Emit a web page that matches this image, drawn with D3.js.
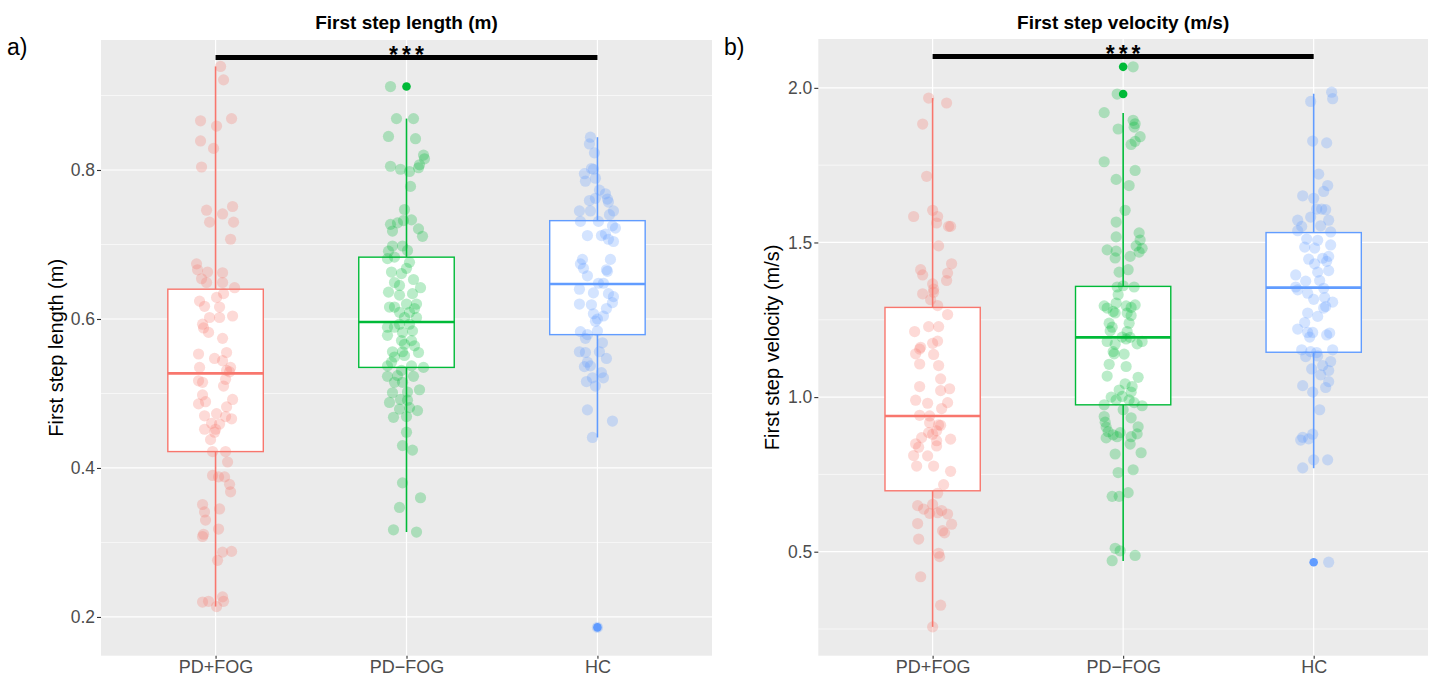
<!DOCTYPE html>
<html>
<head>
<meta charset="utf-8">
<script src="https://cdn.jsdelivr.net/npm/d3@7"></script>
<style>
  html, body { margin: 0; padding: 0; background: #fff; }
  svg { display: block; }
  text { font-family: "Liberation Sans", Arial, Helvetica, sans-serif; }
</style>
</head>
<body>
<svg id="chart" width="1435" height="682"></svg>
<script>
// ---------------- DATA ----------------
const categories = ["PD+FOG", "PD\u2212FOG", "HC"];
const groupColors = ["#F8766D", "#00BA38", "#619CFF"];

// Each point: [value, jitter offset (px at a 190.8px category step)]
const lengthPDFOG = [[0.939,5],[0.921,8],[0.866,-15],[0.869,16],[0.859,1],[0.839,-15],[0.829,-2],[0.804,-14],[0.746,-9],[0.741,7],[0.751,17],[0.730,-6],[0.730,18],[0.707,15],[0.674,-19],[0.666,-18],[0.663,-8],[0.662,7],[0.654,-14],[0.649,-9],[0.649,7],[0.642,19],[0.634,8],[0.629,1],[0.624,-16],[0.617,-11],[0.616,4],[0.602,-6],[0.602,4],[0.604,17],[0.593,-13],[0.588,-12],[0.582,-7],[0.574,7],[0.553,-17],[0.555,11],[0.547,-1],[0.544,7],[0.535,-16],[0.535,15],[0.531,11],[0.529,14],[0.519,10],[0.517,-17],[0.515,-13],[0.510,8],[0.498,-13],[0.486,-17],[0.489,-10],[0.492,17],[0.482,11],[0.473,1],[0.470,-11],[0.469,10],[0.466,16],[0.460,-4],[0.459,4],[0.452,-11],[0.452,0],[0.448,-1],[0.438,-5],[0.422,-3],[0.422,10],[0.408,12],[0.390,-3],[0.388,3],[0.388,9],[0.378,14],[0.368,15],[0.351,-13],[0.345,4],[0.341,-11],[0.330,-10],[0.318,3],[0.311,-12],[0.308,-13],[0.288,16],[0.287,7],[0.276,2],[0.220,-13],[0.221,-7],[0.227,7],[0.221,8],[0.214,1]];
const lengthPDnoFOG = [[0.912,-16],[0.869,-10],[0.869,7],[0.845,-18],[0.842,9],[0.820,17],[0.815,18],[0.807,13],[0.805,-16],[0.801,-6],[0.798,3],[0.803,12],[0.778,4],[0.747,-2],[0.727,-16],[0.718,-14],[0.729,-9],[0.732,-3],[0.733,5],[0.721,12],[0.711,16],[0.698,-14],[0.698,-4],[0.692,1],[0.691,-18],[0.683,-12],[0.681,-19],[0.676,3],[0.668,0],[0.663,-15],[0.661,-5],[0.653,7],[0.649,-12],[0.645,-7],[0.642,14],[0.636,-18],[0.632,-7],[0.634,6],[0.620,0],[0.620,10],[0.616,-17],[0.616,-12],[0.609,-7],[0.614,8],[0.609,3],[0.602,-2],[0.602,10],[0.589,-19],[0.589,-12],[0.593,-7],[0.593,3],[0.578,-19],[0.582,-4],[0.584,6],[0.571,-5],[0.571,5],[0.566,-2],[0.564,8],[0.556,-14],[0.556,-4],[0.555,12],[0.551,-2],[0.549,-12],[0.542,-15],[0.537,5],[0.535,17],[0.537,-19],[0.531,-5],[0.523,-19],[0.524,-9],[0.523,7],[0.515,-12],[0.515,-4],[0.501,-14],[0.502,1],[0.505,13],[0.492,-6],[0.491,1],[0.488,-17],[0.479,-7],[0.481,3],[0.477,11],[0.468,-13],[0.469,0],[0.448,0],[0.430,-4],[0.424,6],[0.380,-4],[0.360,14],[0.347,-7],[0.317,-13],[0.314,10]];
const lengthHC = [[0.844,-7],[0.835,-8],[0.823,-3],[0.802,-6],[0.801,-4],[0.795,-13],[0.789,-2],[0.785,-12],[0.773,2],[0.768,8],[0.759,-8],[0.762,-2],[0.761,10],[0.757,11],[0.745,-18],[0.745,-7],[0.745,16],[0.740,12],[0.731,-17],[0.731,1],[0.725,15],[0.722,18],[0.712,-10],[0.712,4],[0.714,8],[0.707,11],[0.704,16],[0.680,-15],[0.674,-17],[0.680,13],[0.668,-14],[0.666,9],[0.664,10],[0.658,-10],[0.648,1],[0.648,6],[0.640,-18],[0.635,-4],[0.634,11],[0.630,16],[0.620,-18],[0.619,-6],[0.622,15],[0.614,9],[0.607,-4],[0.600,0],[0.604,6],[0.597,-2],[0.583,-17],[0.579,-10],[0.574,-12],[0.584,0],[0.568,5],[0.556,-18],[0.555,-12],[0.556,2],[0.547,9],[0.542,-10],[0.536,-13],[0.537,-7],[0.528,4],[0.521,-5],[0.521,6],[0.516,-11],[0.510,-2],[0.478,-10],[0.463,15],[0.441,-5],[0.186,0]];

const velocityPDFOG = [[1.967,-4],[1.951,14],[1.883,-10],[1.714,-6],[1.584,-19],[1.604,0],[1.584,5],[1.563,4],[1.552,16],[1.552,18],[1.489,6],[1.431,19],[1.412,-12],[1.395,-10],[1.401,15],[1.377,14],[1.366,0],[1.349,1],[1.339,1],[1.334,-10],[1.315,-2],[1.296,5],[1.267,15],[1.228,-4],[1.228,6],[1.212,-18],[1.174,0],[1.181,5],[1.161,-12],[1.155,-13],[1.140,-17],[1.138,1],[1.107,-13],[1.102,6],[1.059,8],[1.034,-13],[1.021,8],[1.027,17],[0.990,-17],[0.980,-5],[0.982,15],[0.963,9],[0.941,-13],[0.939,-3],[0.917,-3],[0.909,8],[0.910,6],[0.885,-4],[0.880,0],[0.891,4],[0.869,-11],[0.864,18],[0.859,4],[0.849,-17],[0.838,-14],[0.842,4],[0.811,-19],[0.810,-5],[0.777,-16],[0.777,1],[0.760,18],[0.717,11],[0.689,5],[0.649,-15],[0.638,-9],[0.653,0],[0.624,-3],[0.626,5],[0.633,9],[0.622,15],[0.589,19],[0.591,-15],[0.568,10],[0.561,12],[0.541,-14],[0.495,6],[0.484,7],[0.419,-12],[0.327,8],[0.257,0]];
const velocityPDnoFOG = [[2.068,10],[1.980,-6],[1.920,-19],[1.895,10],[1.884,12],[1.873,11],[1.867,-5],[1.842,17],[1.827,12],[1.817,8],[1.761,-19],[1.733,12],[1.704,-7],[1.684,6],[1.604,2],[1.566,-7],[1.531,16],[1.518,-7],[1.508,17],[1.489,13],[1.481,19],[1.476,-16],[1.469,16],[1.472,-7],[1.450,-8],[1.455,7],[1.404,-4],[1.412,5],[1.356,-6],[1.356,11],[1.360,0],[1.331,-5],[1.304,-7],[1.295,-19],[1.288,-16],[1.295,3],[1.290,8],[1.298,12],[1.277,-10],[1.272,-8],[1.272,4],[1.264,8],[1.239,-14],[1.239,6],[1.226,-11],[1.214,-13],[1.212,4],[1.194,-1],[1.188,3],[1.193,7],[1.180,-16],[1.171,-8],[1.172,14],[1.180,19],[1.147,-10],[1.139,1],[1.140,-9],[1.106,-14],[1.099,3],[1.068,-16],[1.064,15],[1.043,2],[1.034,9],[1.023,-4],[1.016,8],[1.002,-1],[1.000,-12],[0.991,-7],[0.991,6],[0.982,11],[0.975,-19],[0.972,19],[0.959,0],[0.937,-19],[0.933,8],[0.919,-18],[0.903,-17],[0.904,15],[0.888,-15],[0.885,-3],[0.878,-10],[0.881,14],[0.872,8],[0.868,-17],[0.872,-6],[0.848,7],[0.816,-8],[0.820,18],[0.765,10],[0.756,-5],[0.679,-11],[0.679,-4],[0.691,5],[0.511,-8],[0.503,-3],[0.488,12],[0.471,-11]];
const velocityHC = [[1.986,18],[1.965,19],[1.956,-3],[1.828,-1],[1.822,13],[1.721,5],[1.684,14],[1.665,10],[1.651,-11],[1.643,0],[1.608,3],[1.608,8],[1.606,12],[1.582,-3],[1.572,-16],[1.554,7],[1.572,15],[1.552,-12],[1.538,-16],[1.534,17],[1.511,-7],[1.507,4],[1.485,-9],[1.482,1],[1.492,17],[1.446,-5],[1.449,9],[1.431,1],[1.455,15],[1.439,13],[1.404,4],[1.409,15],[1.395,-18],[1.375,-8],[1.377,6],[1.356,-18],[1.347,-16],[1.352,10],[1.336,-6],[1.316,0],[1.322,11],[1.307,19],[1.293,12],[1.288,10],[1.272,-6],[1.261,4],[1.241,-9],[1.220,-16],[1.209,-6],[1.209,-1],[1.194,-4],[1.201,13],[1.207,16],[1.153,-12],[1.147,-3],[1.144,3],[1.153,19],[1.131,-8],[1.133,4],[1.115,17],[1.102,9],[1.091,-2],[1.086,15],[1.072,7],[1.050,15],[1.037,-11],[1.031,12],[1.016,-1],[0.959,6],[0.880,-1],[0.870,-11],[0.861,-13],[0.865,-5],[0.797,0],[0.797,14],[0.771,-11],[0.466,15]];

// Boxplot statistics per category: [lower whisker, Q1, median, Q3, upper whisker]
const lengthBoxStats = [[0.214,0.422,0.527,0.640,0.939],[0.314,0.535,0.596,0.683,0.869],[0.441,0.579,0.647,0.732,0.844]];
const lengthOutliers = [[], [0.912], [0.186]];
const velocityBoxStats = [[0.257,0.697,0.939,1.290,1.967],[0.470,0.975,1.193,1.358,1.919],[0.770,1.145,1.354,1.532,1.981]];
const velocityOutliers = [[], [2.068, 1.980], [0.466]];

const lengthTicks = [0.2, 0.4, 0.6, 0.8];
const lengthMinor = [0.3, 0.5, 0.7, 0.9];
const velocityTicks = [0.5, 1.0, 1.5, 2.0];
const velocityMinor = [0.25, 0.75, 1.25, 1.75];

const panelTitles = ["First step length (m)", "First step velocity (m/s)"];
const panelLetters = ["a)", "b)"];
const significance = ["***", "***"];

// ---------------- DRAW ----------------
const svg = d3.select("#chart");

function drawPanel(cfg) {
  const g = svg.append("g");
  const x = d3.scalePoint().domain(categories).range([cfg.left, cfg.right]).padding(0.6);
  const y = d3.scaleLinear().domain(cfg.domain).range([cfg.bottom, cfg.top]);
  const step = x.step();
  const jit = step / 190.8;
  const boxW = step * 0.5;

  // panel background
  g.append("rect").attr("x", cfg.left).attr("y", cfg.top)
    .attr("width", cfg.right - cfg.left).attr("height", cfg.bottom - cfg.top)
    .attr("fill", "#EBEBEB");

  // minor grid
  g.selectAll(".minor").data(cfg.minor).join("line")
    .attr("x1", cfg.left).attr("x2", cfg.right)
    .attr("y1", d => y(d)).attr("y2", d => y(d))
    .attr("stroke", "#fff").attr("stroke-width", 0.6);
  // major grid
  g.selectAll(".major").data(cfg.ticks).join("line")
    .attr("x1", cfg.left).attr("x2", cfg.right)
    .attr("y1", d => y(d)).attr("y2", d => y(d))
    .attr("stroke", "#fff").attr("stroke-width", 1.2);
  g.selectAll(".vmajor").data(categories).join("line")
    .attr("x1", d => x(d)).attr("x2", d => x(d))
    .attr("y1", cfg.top).attr("y2", cfg.bottom)
    .attr("stroke", "#fff").attr("stroke-width", 1.2);

  // boxplots
  categories.forEach((c, i) => {
    const s = cfg.stats[i];
    const cx = x(c), col = groupColors[i];
    const bg = g.append("g");
    bg.append("line").attr("x1", cx).attr("x2", cx).attr("y1", y(s[3])).attr("y2", y(s[4]))
      .attr("stroke", col).attr("stroke-width", 1.6);
    bg.append("line").attr("x1", cx).attr("x2", cx).attr("y1", y(s[1])).attr("y2", y(s[0]))
      .attr("stroke", col).attr("stroke-width", 1.6);
    bg.append("rect").attr("x", cx - boxW / 2).attr("width", boxW)
      .attr("y", y(s[3])).attr("height", y(s[1]) - y(s[3]))
      .attr("fill", "#fff").attr("stroke", col).attr("stroke-width", 1.4);
    bg.append("line").attr("x1", cx - boxW / 2).attr("x2", cx + boxW / 2)
      .attr("y1", y(s[2])).attr("y2", y(s[2]))
      .attr("stroke", col).attr("stroke-width", 2.6);
    bg.selectAll("circle").data(cfg.outliers[i]).join("circle")
      .attr("cx", cx).attr("cy", d => y(d)).attr("r", 4.3).attr("fill", col);
  });

  // jittered points
  cfg.points.forEach((pts, i) => {
    g.append("g").selectAll("circle").data(pts).join("circle")
      .attr("cx", d => x(categories[i]) + d[1] * jit)
      .attr("cy", d => y(d[0]))
      .attr("r", 5.6)
      .attr("fill", groupColors[i])
      .attr("fill-opacity", 0.27);
  });

  // significance bar
  const x0 = x(categories[0]), x2 = x(categories[2]);
  g.append("line").attr("x1", x0).attr("x2", x2)
    .attr("y1", cfg.barY).attr("y2", cfg.barY)
    .attr("stroke", "#000").attr("stroke-width", 5);
  g.append("text").attr("x", (x0 + x2) / 2 + 2).attr("y", cfg.barY + 5)
    .attr("text-anchor", "middle").attr("font-size", 23).attr("font-weight", "bold")
    .attr("letter-spacing", "4px")
    .attr("font-family", "'DejaVu Sans', sans-serif")
    .text(cfg.sig);

  // y axis
  const ya = g.append("g").attr("transform", `translate(${cfg.left},0)`)
    .call(d3.axisLeft(y).tickValues(cfg.ticks).tickFormat(d3.format(".1f")).tickSize(4).tickPadding(2));
  ya.select(".domain").remove();
  ya.selectAll(".tick line").attr("stroke", "#333").attr("stroke-width", 1.1);
  ya.selectAll(".tick text").attr("fill", "#4D4D4D").attr("font-size", 17.5)
    .attr("font-family", "'Liberation Sans', Arial, sans-serif");

  // x axis
  const xa = g.append("g").attr("transform", `translate(0,${cfg.bottom})`)
    .call(d3.axisBottom(x).tickSize(3).tickPadding(2));
  xa.select(".domain").remove();
  xa.selectAll(".tick line").attr("stroke", "#333").attr("stroke-width", 1.1);
  xa.selectAll(".tick text").attr("fill", "#4D4D4D").attr("font-size", 18)
    .attr("font-family", "'Liberation Sans', Arial, sans-serif");

  // titles
  g.append("text").attr("x", (cfg.left + cfg.right) / 2).attr("y", 29)
    .attr("text-anchor", "middle").attr("font-size", 19).attr("font-weight", "bold")
    .attr("fill", "#000").text(cfg.title);
  g.append("text")
    .attr("transform", `translate(${cfg.ytitleX},${(cfg.top + cfg.bottom) / 2}) rotate(-90)`)
    .attr("text-anchor", "middle").attr("font-size", 20).attr("fill", "#000")
    .text(cfg.title);
  g.append("text").attr("x", cfg.letterX).attr("y", 55)
    .attr("font-size", 23).attr("font-family", "'Open Sans', sans-serif")
    .attr("fill", "#000").text(cfg.letter);
}

drawPanel({
  left: 101, right: 712, top: 40, bottom: 655.7,
  domain: [0.148, 0.9745],
  ticks: lengthTicks, minor: lengthMinor,
  stats: lengthBoxStats, outliers: lengthOutliers,
  points: [lengthPDFOG, lengthPDnoFOG, lengthHC],
  barY: 57.5, sig: significance[0],
  title: panelTitles[0], letter: panelLetters[0], letterX: 7, ytitleX: 63
});
drawPanel({
  left: 818.3, right: 1428, top: 39, bottom: 655.7,
  domain: [0.1637, 2.158],
  ticks: velocityTicks, minor: velocityMinor,
  stats: velocityBoxStats, outliers: velocityOutliers,
  points: [velocityPDFOG, velocityPDnoFOG, velocityHC],
  barY: 56.5, sig: significance[1],
  title: panelTitles[1], letter: panelLetters[1], letterX: 724, ytitleX: 779
});
</script>
</body>
</html>
